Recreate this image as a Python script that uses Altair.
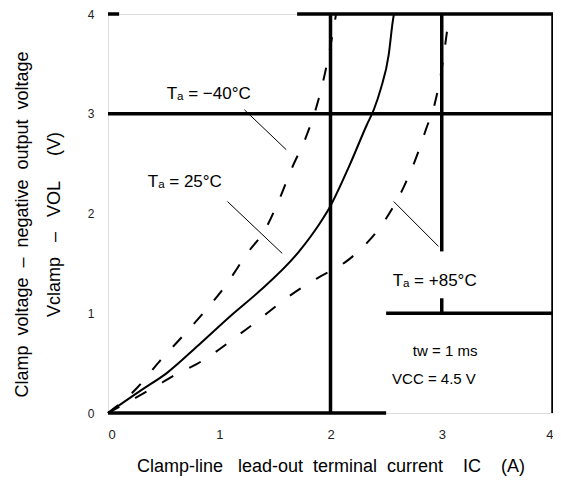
import altair as alt
import pandas as pd

# ---- data ----
x_ticks = [0, 1, 2, 3, 4]
y_ticks = [0, 1, 2, 3, 4]

ic_m40 = [0, 0.26, 0.465, 0.671, 0.886, 1.065, 1.244, 1.423, 1.539, 1.655, 1.781, 1.879, 1.951, 2.013, 2.05]
v_m40 = [0, 0.25, 0.52, 0.77, 1.04, 1.29, 1.59, 1.86, 2.14, 2.46, 2.77, 3.09, 3.41, 3.76, 4.0]

ic_25 = [0, 0.286, 0.528, 0.823, 1.119, 1.360, 1.718, 1.897, 1.987, 2.166, 2.327, 2.389, 2.452, 2.523, 2.559, 2.57]
v_25 = [0, 0.22, 0.40, 0.69, 0.99, 1.22, 1.62, 1.89, 2.05, 2.47, 2.89, 3.04, 3.25, 3.59, 3.92, 4.0]

ic_85 = [0, 0.403, 0.617, 0.796, 1.244, 1.718, 1.88, 2.166, 2.34, 2.5, 2.66, 2.79, 2.86, 2.93, 3.0, 3.05]
v_85 = [0, 0.25, 0.39, 0.49, 0.84, 1.24, 1.35, 1.54, 1.72, 1.95, 2.27, 2.62, 2.85, 3.07, 3.45, 3.85]

# frame / grid segments (data units)
seg_x = [1.70, 0.0, 0.0, 2.0, 3.0, 3.0, 4.0, 2.5, 0.0]
seg_x2 = [4.0, 0.1, 4.0, 2.0, 3.0, 3.0, 4.0, 4.0, 2.5]
seg_y = [4.0, 4.0, 3.0, 0.0, 1.62, 1.0, 0.0, 1.0, 0.0]
seg_y2 = [4.0, 4.0, 3.0, 4.0, 4.0, 1.15, 4.0, 1.0, 0.0]

# label leader lines (data units)
lead_x = [1.226, 1.074, 2.568]
lead_x2 = [1.602, 1.566, 2.971]
lead_y = [3.04, 2.12, 2.12]
lead_y2 = [2.64, 1.60, 1.67]

lab_text = ["Tₐ = −40°C", "Tₐ = 25°C", "Tₐ = +85°C"]
lab_x = [0.528, 0.358, 2.559]
lab_y = [3.20, 2.32, 1.32]

cond_text = ["tw = 1 ms", "VCC = 4.5 V"]
cond_x = [3.03, 2.93]
cond_y = [0.62, 0.34]

FONT = "Liberation Sans"
S = "\u00a0"  # non-breaking space keeps wide gaps in SVG text

x_title = f"Clamp-line{S*3}lead-out{S*2}terminal{S*2}current{S*4}IC{S*4}(A)"
y_title = [f"Clamp{S*2}voltage{S*2}–{S*2}negative{S*2}output{S*2}voltage",
           f"Vclamp{S*3}–{S*3}VOL{S*5}(V)"]

xs = alt.Scale(domain=[0, 4], nice=False, zero=True)
ys = alt.Scale(domain=[0, 4], nice=False, zero=True)

def curve_df(xv, yv, name):
    return pd.DataFrame({"ic": xv, "v": yv, "s": name})

dashed = pd.concat([curve_df(ic_m40, v_m40, "m40"), curve_df(ic_85, v_85, "p85")])
solid = curve_df(ic_25, v_25, "25")

segs = pd.DataFrame({"x": seg_x, "x2": seg_x2, "y": seg_y, "y2": seg_y2})
leads = pd.DataFrame({"x": lead_x, "x2": lead_x2, "y": lead_y, "y2": lead_y2})
labs = pd.DataFrame({"t": lab_text, "x": lab_x, "y": lab_y})
conds = pd.DataFrame({"t": cond_text, "x": cond_x, "y": cond_y})

x_axis = alt.Axis(values=x_ticks, format="d", ticks=False, domain=False, grid=False,
                  labelPadding=15, labelFontSize=13, labelFont=FONT, labelColor="#222",
                  title=x_title, titleFont=FONT,
                  titleFontSize=18, titleFontWeight="normal", titleY=44,
                  titleBaseline="top", titleColor="black")
y_axis = alt.Axis(values=y_ticks, format="d", ticks=False, domain=False, grid=False,
                  labelPadding=14, labelFontSize=12, labelFont=FONT, labelColor="#222",
                  title=y_title,
                  titleFont=FONT, titleFontSize=18, titleFontWeight="normal",
                  titleX=-95, titleY=210, titleAngle=-90, titleBaseline="top",
                  titleAlign="center", titleLineHeight=32, titleColor="black")

base_x = alt.X("ic:Q", scale=xs, axis=x_axis)
base_y = alt.Y("v:Q", scale=ys, axis=y_axis)

grid = alt.Chart(segs).mark_rule(color="black", strokeWidth=3.5).encode(
    x=alt.X("x:Q", scale=xs, axis=x_axis), x2="x2:Q",
    y=alt.Y("y:Q", scale=ys, axis=y_axis), y2="y2:Q")

lead = alt.Chart(leads).mark_rule(color="black", strokeWidth=1).encode(
    x=alt.X("x:Q", scale=xs), x2="x2:Q", y=alt.Y("y:Q", scale=ys), y2="y2:Q")

solid_line = alt.Chart(solid).mark_line(color="black", strokeWidth=2,
                                         interpolate="monotone").encode(
    x=base_x, y=base_y)

dash_line = alt.Chart(dashed).mark_line(color="black", strokeWidth=2,
                                         strokeDash=[13, 18],
                                         interpolate="monotone").encode(
    x=base_x, y=base_y, detail="s:N")

labels = alt.Chart(labs).mark_text(align="left", baseline="middle", font=FONT,
                                   fontSize=17, color="black").encode(
    x=alt.X("x:Q", scale=xs), y=alt.Y("y:Q", scale=ys), text="t:N")

conds_t = alt.Chart(conds).mark_text(align="center", baseline="middle", font=FONT,
                                     fontSize=15, color="black").encode(
    x=alt.X("x:Q", scale=xs), y=alt.Y("y:Q", scale=ys), text="t:N")

chart = alt.layer(grid, lead, solid_line, dash_line, labels, conds_t).properties(
    width=445, height=399,
    autosize=alt.AutoSizeParams(type="none"),
    padding={"left": 100, "top": 6, "right": 0, "bottom": 64},
).configure_view(stroke=None).configure(background="white")

chart.save("out.html", embed_options={"renderer": "svg", "actions": False})
